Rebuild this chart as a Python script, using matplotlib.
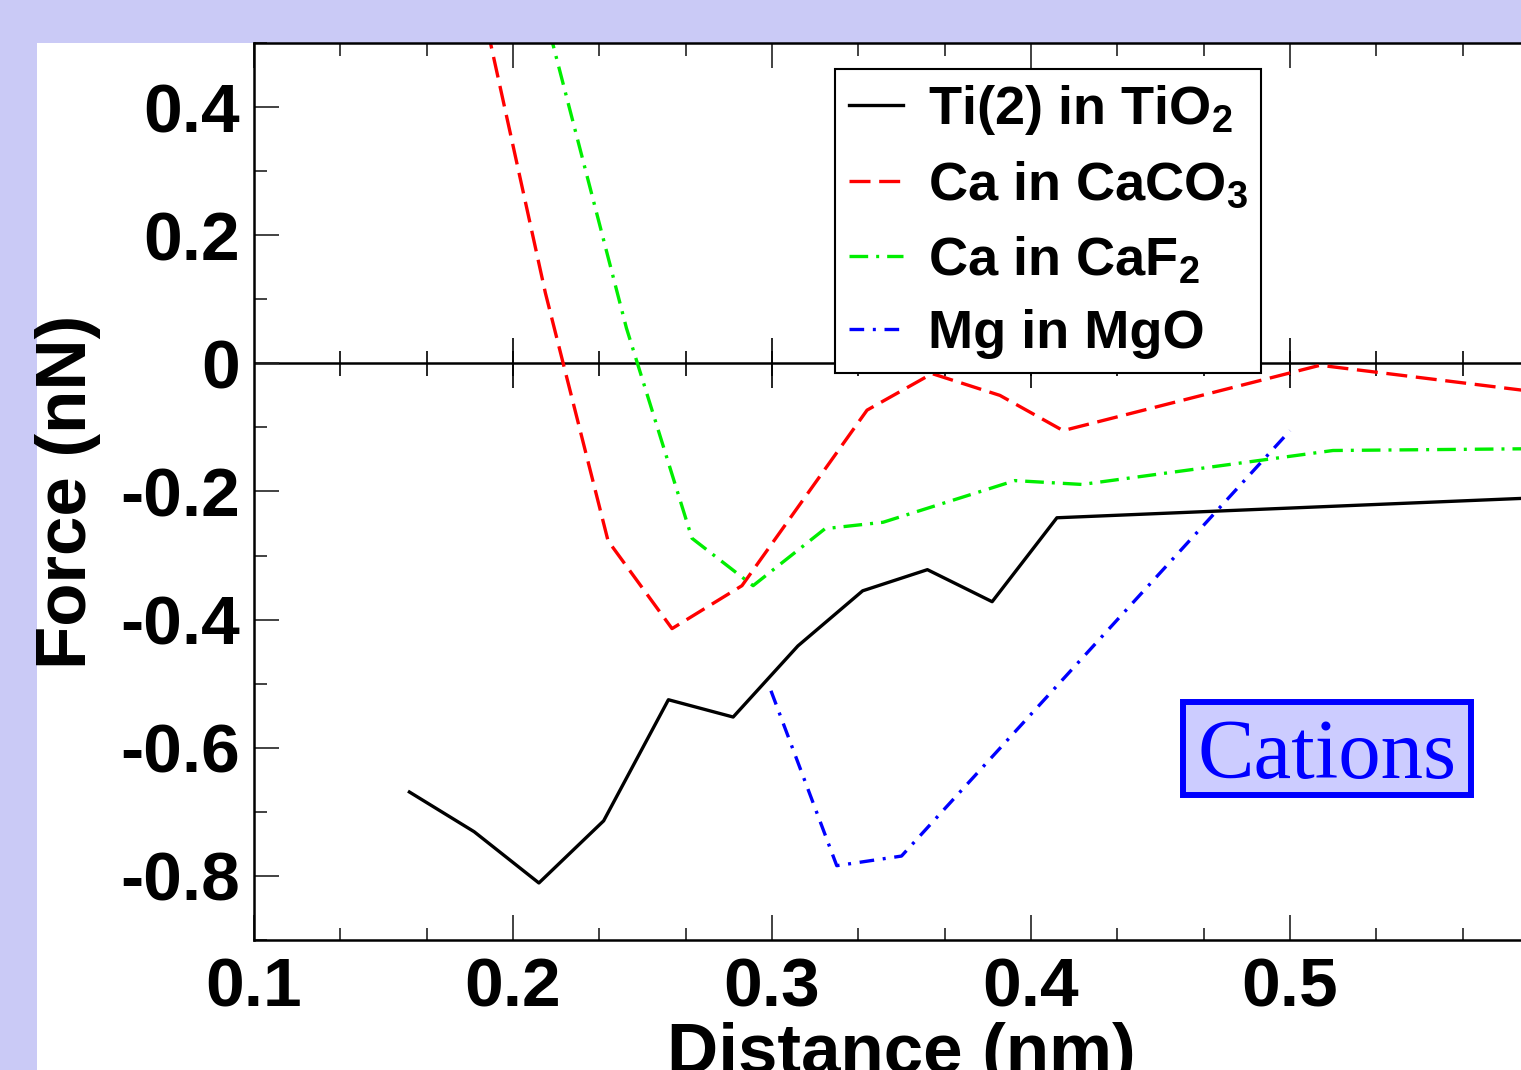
import numpy as np
import matplotlib
matplotlib.use("Agg")
import matplotlib.pyplot as plt
from matplotlib.patches import Rectangle
from matplotlib.ticker import MultipleLocator

plt.rcParams['font.family'] = ['Liberation Sans', 'DejaVu Sans']
plt.rcParams['font.weight'] = 'bold'
plt.rcParams['mathtext.fontset'] = 'custom'
plt.rcParams['mathtext.rm'] = 'Liberation Sans:bold'
plt.rcParams['mathtext.bf'] = 'Liberation Sans:bold'

# Data (distance in nm, force in nN)
ti_x = [0.16, 0.185, 0.21, 0.235, 0.26, 0.285, 0.31, 0.335, 0.36, 0.385, 0.41, 0.60]
ti_y = [-0.669, -0.731, -0.811, -0.714, -0.525, -0.552, -0.441, -0.355, -0.322, -0.372, -0.241, -0.209]

caco3_x = [0.1875, 0.2125, 0.2367, 0.2614, 0.2884, 0.3367, 0.3618, 0.388, 0.4124, 0.5116, 0.60]
caco3_y = [0.57, 0.11, -0.277, -0.414, -0.347, -0.073, -0.016, -0.050, -0.105, -0.003, -0.047]

caf2_x = [0.214, 0.2438, 0.2691, 0.2927, 0.3205, 0.3429, 0.3938, 0.4197, 0.5166, 0.60]
caf2_y = [0.52, 0.055, -0.273, -0.347, -0.258, -0.248, -0.183, -0.189, -0.136, -0.133]

mgo_x = [0.2996, 0.325, 0.350, 0.500]
mgo_y = [-0.511, -0.784, -0.769, -0.105]

labels = ['Ti(2) in TiO$_2$', 'Ca in CaCO$_3$', 'Ca in CaF$_2$', 'Mg in MgO']
xtick_vals = [0.1, 0.2, 0.3, 0.4, 0.5]
ytick_vals = [-0.8, -0.6, -0.4, -0.2, 0.0, 0.2, 0.4]

W, H = 1521, 1070
fig = plt.figure(figsize=(W / 100, H / 100), dpi=100)
fig.patch.set_facecolor('#cacaf6')
fig.patches.append(Rectangle((37 / W, 0), 1, (H - 43) / H, transform=fig.transFigure,
                             facecolor='white', edgecolor='none', zorder=-10))

# axes: x 0.1 at px 254, 0.6 just beyond the right edge; y -0.9 at px 940, 0.5 at px 43
ax = fig.add_axes([254 / W, (H - 940) / H, 1295 / W, 897 / H])
ax.set_xlim(0.1, 0.6)
ax.set_ylim(-0.9, 0.5)

lw = 2.4
ax.plot(ti_x, ti_y, color='black', lw=lw, label=labels[0])
ax.plot(caco3_x, caco3_y, color='red', lw=lw, linestyle=(0, (6.3, 2.6)), label=labels[1])
ax.plot(caf2_x, caf2_y, color='#00ee00', lw=lw, linestyle=(0, (5.6, 2.4, 0.9, 2.4)), label=labels[2])
ax.plot(mgo_x, mgo_y, color='blue', lw=lw, linestyle=(0, (4.4, 2.6, 0.9, 2.6)), label=labels[3])

# zero line with crossing ticks
ax.axhline(0, color='black', lw=1.8, zorder=1)
major_x = np.arange(0.1, 0.601, 0.1)
minor_x = np.arange(0.1, 0.601, 0.1 / 3)
ax.plot(major_x, np.zeros_like(major_x), ls='none', marker='|', ms=36, mew=1.2, color='black', zorder=1)
ax.plot(minor_x, np.zeros_like(minor_x), ls='none', marker='|', ms=18, mew=1.2, color='black', zorder=1)

ax.set_xticks(xtick_vals)
ax.set_xticklabels([f'{v:.1f}' for v in xtick_vals])
ax.set_yticks(ytick_vals)
ax.set_yticklabels(['0' if v == 0 else f'{v:.1f}' for v in ytick_vals])
ax.xaxis.set_minor_locator(MultipleLocator(0.1 / 3))
ax.yaxis.set_minor_locator(MultipleLocator(0.1))
ax.tick_params(which='both', direction='in', top=True, right=False, width=1.2, color='#222222')
ax.tick_params(which='major', length=18)
ax.tick_params(which='minor', length=9)
ax.tick_params(axis='x', which='major', labelsize=50, pad=12)
ax.tick_params(axis='y', which='major', labelsize=50, pad=10)
for s in ax.spines.values():
    s.set_linewidth(1.8)

ax.set_xlabel('Distance (nm)', fontsize=51, fontweight='bold', labelpad=1)
ax.set_ylabel('Force (nN)', fontsize=51, fontweight='bold', labelpad=14)

leg = ax.legend(loc='upper left', bbox_to_anchor=(0.449, 0.971), fontsize=39,
                frameon=True, fancybox=False, framealpha=1, edgecolor='black',
                handlelength=1.0, handletextpad=0.45, labelspacing=0.43,
                borderpad=0.25, borderaxespad=0)
leg.get_frame().set_linewidth(1.5)

# "Cations" tag
ax.add_patch(Rectangle((0.7174, 0.1617), 0.2224, 0.1037, transform=ax.transAxes,
                       facecolor='#ccccff', edgecolor='blue', lw=4.3, zorder=5))
ax.text(0.8286, 0.1806, 'Cations', transform=ax.transAxes, ha='center', va='baseline',
        fontsize=61, color='blue', family='Liberation Serif', fontweight='normal', zorder=6)

fig.savefig('out.png', dpi=100, facecolor=fig.get_facecolor())
